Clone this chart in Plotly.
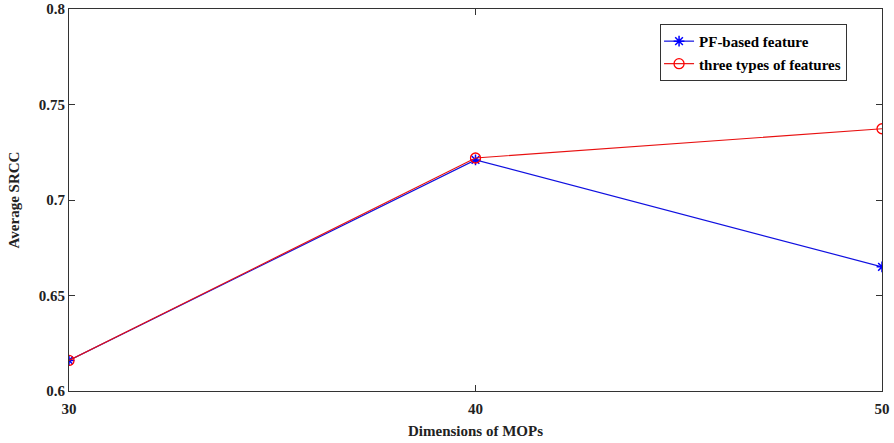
import plotly.graph_objects as go

dims = [30, 40, 50]
pf_based = [0.616, 0.721, 0.665]
three_types = [0.616, 0.722, 0.7373]
y_ticks = [0.6, 0.65, 0.7, 0.75, 0.8]
y_tick_text = ["0.6", "0.65", "0.7", "0.75", "0.8"]
x_ticks = [30, 40, 50]

font_family = "Liberation Serif"
bold_font = dict(family=font_family, size=15, color="#222222", weight="bold")

fig = go.Figure()
fig.add_trace(go.Scatter(
    x=dims, y=pf_based, mode="lines+markers", name="PF-based feature",
    line=dict(color="#1010E0", width=1.2),
    marker=dict(symbol="asterisk-open", size=9, color="#0000FF",
                line=dict(color="#0000FF", width=1.5)),
))
fig.add_trace(go.Scatter(
    x=dims, y=three_types, mode="lines+markers", name="three types of features",
    line=dict(color="#E81010", width=1.2),
    marker=dict(symbol="circle-open", size=10, color="#FF0000",
                line=dict(color="#FF0000", width=1.3)),
))

axis_common = dict(
    showline=True, linecolor="#333333", linewidth=1, mirror="ticks",
    ticks="inside", ticklen=6, tickcolor="#333333", showgrid=False, zeroline=False,
    tickfont=bold_font, automargin=False,
)

fig.update_xaxes(range=[30, 50], tickvals=x_ticks, ticklabelstandoff=4,
                 title=dict(text="Dimensions of MOPs", standoff=9, font=bold_font),
                 **axis_common)
fig.update_yaxes(range=[0.6, 0.8], tickvals=y_ticks, ticktext=y_tick_text,
                 title=dict(text="Average SRCC", standoff=15, font=bold_font),
                 **axis_common)

fig.update_layout(
    width=894, height=443,
    margin=dict(l=69, r=12, t=9, b=52),
    plot_bgcolor="white", paper_bgcolor="white",
    legend=dict(x=0.727, y=0.961, xanchor="left", yanchor="top",
                bgcolor="white", bordercolor="#333333", borderwidth=1,
                font=dict(family=font_family, size=15, color="black", weight="bold"),
                tracegroupgap=0, itemwidth=30, indentation=-2),
    showlegend=True,
)

fig.write_html("out.html", config={"displayModeBar": False},
               post_script="document.body.style.margin='0';document.body.style.overflow='hidden';")
